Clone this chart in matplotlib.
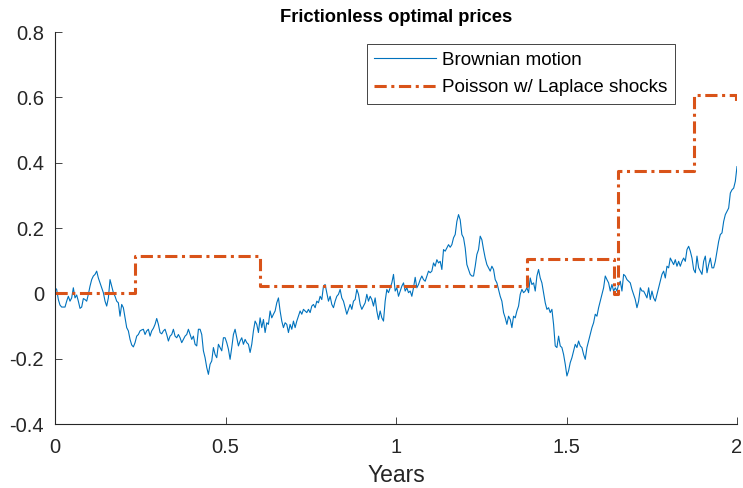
import matplotlib
matplotlib.use('Agg')
import matplotlib.pyplot as plt
import numpy as np

plt.rcParams['font.family'] = ['Liberation Sans', 'DejaVu Sans']

# Brownian path (equally spaced in time over [0, 2])
bm = [
    0.017, 0.012, -0.019, -0.036, -0.042, -0.042, -0.042, -0.024, -0.009, -0.024,
    -0.014, 0.017, -0.014, -0.005, -0.024, -0.046, -0.042, -0.016, -0.019, -0.024,
    -0.003, 0.022, 0.042, 0.053, 0.058, 0.068, 0.047, 0.032, 0.017, 0.002,
    -0.024, -0.039, -0.014, 0.042, 0.022, 0.002, -0.009, -0.024, -0.029, -0.070,
    -0.034, -0.044, -0.075, -0.105, -0.115, -0.141, -0.158, -0.164, -0.151, -0.131,
    -0.126, -0.115, -0.112, -0.110, -0.126, -0.115, -0.110, -0.131, -0.115, -0.107,
    -0.095, -0.077, -0.095, -0.120, -0.124, -0.115, -0.110, -0.126, -0.146, -0.131,
    -0.126, -0.110, -0.131, -0.136, -0.126, -0.136, -0.151, -0.141, -0.131, -0.126,
    -0.110, -0.126, -0.141, -0.131, -0.156, -0.161, -0.110, -0.110, -0.126, -0.176,
    -0.197, -0.227, -0.248, -0.217, -0.207, -0.166, -0.187, -0.197, -0.156, -0.166,
    -0.176, -0.136, -0.136, -0.151, -0.171, -0.202,
    -0.166, -0.126, -0.110, -0.136, -0.161, -0.146, -0.136, -0.156, -0.141, -0.151,
    -0.156, -0.181, -0.156, -0.115, -0.085, -0.095, -0.120, -0.075, -0.105, -0.080,
    -0.120, -0.090, -0.095, -0.054, -0.075, -0.064, -0.054, -0.029, -0.014, -0.054,
    -0.085, -0.105, -0.090, -0.095, -0.120, -0.095, -0.110, -0.085, -0.105, -0.085,
    -0.070, -0.054, -0.064, -0.049, -0.054, -0.059, -0.049, -0.059, -0.039, -0.034,
    -0.044, -0.024, -0.029, -0.009, -0.019, 0.022, 0.027, 0.002, -0.024, -0.009,
    -0.034, -0.044, -0.024, -0.009, -0.003, 0.012, -0.014, -0.024, -0.044, -0.064,
    -0.049, -0.034, -0.049, -0.024, -0.019, 0.012, -0.003, -0.034, -0.049, -0.039,
    -0.029, -0.003, -0.024, -0.009, -0.019, -0.039, -0.014, -0.054, -0.080, -0.054,
    -0.075, -0.085, -0.024, 0.012, 0.002, 0.017, 0.032, 0.058, 0.007, 0.017,
    -0.009, 0.007,
    0.022, 0.032, 0.007, 0.017, 0.002, 0.007, -0.009, 0.017, 0.049, 0.017,
    0.027, 0.042, 0.053, 0.042, 0.037, 0.053, 0.068, 0.063, 0.068, 0.093,
    0.083, 0.103, 0.093, 0.098, 0.073, 0.134, 0.129, 0.139, 0.149, 0.141,
    0.149, 0.170, 0.180, 0.220, 0.241, 0.225, 0.180, 0.170, 0.139, 0.088,
    0.073, 0.058, 0.053, 0.053, 0.083, 0.119, 0.134, 0.175, 0.164, 0.134,
    0.108, 0.088, 0.078, 0.068, 0.083, 0.073, 0.042, 0.032, 0.012, -0.009,
    -0.024, -0.059, -0.075, -0.095, -0.070, -0.080, -0.105, -0.070, -0.075, -0.054,
    -0.039, -0.003, 0.012, 0.002, 0.007, 0.017, 0.002, 0.047, 0.027, 0.032,
    0.007, 0.053, 0.073, 0.047, 0.032, 0.002, -0.029, -0.049, -0.044, -0.059,
    -0.049, -0.095, -0.161, -0.166, -0.131, -0.161, -0.166, -0.187, -0.217, -0.253,
    -0.237, -0.212,
    -0.197, -0.176, -0.156, -0.166, -0.146, -0.161, -0.166, -0.187, -0.202, -0.166,
    -0.146, -0.126, -0.105, -0.090, -0.064, -0.070, -0.044, -0.024, -0.003, 0.017,
    0.053, 0.042, 0.032, 0.007, 0.027, 0.007, 0.017, 0.007, 0.027, 0.037,
    0.007, 0.058, 0.053, 0.042, 0.037, 0.032, 0.012, -0.003, -0.019, -0.044,
    -0.024, 0.017, 0.007, 0.007, -0.003, -0.014, 0.017, -0.019, 0.007, -0.014,
    -0.024, -0.003, 0.017, 0.037, 0.058, 0.068, 0.047, 0.083, 0.078, 0.108,
    0.098, 0.088, 0.103, 0.083, 0.098, 0.083, 0.098, 0.108, 0.098, 0.134,
    0.144, 0.129, 0.108, 0.073, 0.063, 0.114, 0.078, 0.068, 0.058, 0.098,
    0.114, 0.063, 0.088, 0.108, 0.078, 0.078, 0.098, 0.129, 0.159, 0.180,
    0.185, 0.220, 0.241, 0.251, 0.261, 0.307, 0.317, 0.322, 0.343, 0.388,
]
bm_t = np.linspace(0, 2, len(bm))

# Poisson jump process with Laplace shocks: jump times and levels
jump_t = [0.0, 0.235, 0.600, 1.383, 1.638, 1.652, 1.875, 1.997, 2.0]
jump_v = [0.0, 0.115, 0.022, 0.105, -0.003, 0.373, 0.608, 0.590, 0.590]

blue = '#0072BD'
orange = '#D95319'

fig = plt.figure(figsize=(7.43, 4.88), dpi=100)
ax = fig.add_axes([55 / 743, 1 - 424 / 488, 682 / 743, 392 / 488])

ax.plot(bm_t, bm, color=blue, lw=0.8, label='Brownian motion')
ax.step(jump_t, jump_v, where='post', color=orange, lw=2.2,
        dashes=(4, 1.5, 1, 1.5), label='Poisson w/ Laplace shocks')

ax.set_xlim(0, 2)
ax.set_ylim(-0.4, 0.8)
ax.set_xticks([0, 0.5, 1, 1.5, 2])
ax.set_xticklabels(['0', '0.5', '1', '1.5', '2'])
ax.set_yticks([-0.4, -0.2, 0, 0.2, 0.4, 0.6, 0.8])
ax.set_yticklabels(['-0.4', '-0.2', '0', '0.2', '0.4', '0.6', '0.8'])
ax.tick_params(direction='in', length=5, width=0.6, labelsize=14.5,
               color='#262626', labelcolor='#262626')
ax.tick_params(axis='y', pad=8)
ax.tick_params(axis='x', pad=10)
for s in ['top', 'right']:
    ax.spines[s].set_visible(False)
for s in ['left', 'bottom']:
    ax.spines[s].set_linewidth(0.8)
    ax.spines[s].set_color('#262626')

ax.set_xlabel('Years', fontsize=16.5, color='#262626', labelpad=5)
ax.set_title('Frictionless optimal prices', fontsize=13.2, fontweight='bold', pad=7)

leg = ax.legend(loc='upper right', bbox_to_anchor=(620 / 682, 380 / 392),
                fontsize=13.6, fancybox=False, framealpha=1, edgecolor='#262626',
                handlelength=3.3, handletextpad=0.3, borderaxespad=0,
                borderpad=0.4, labelspacing=0.55)
leg.get_frame().set_linewidth(0.6)

fig.savefig('out.png', dpi=100)
